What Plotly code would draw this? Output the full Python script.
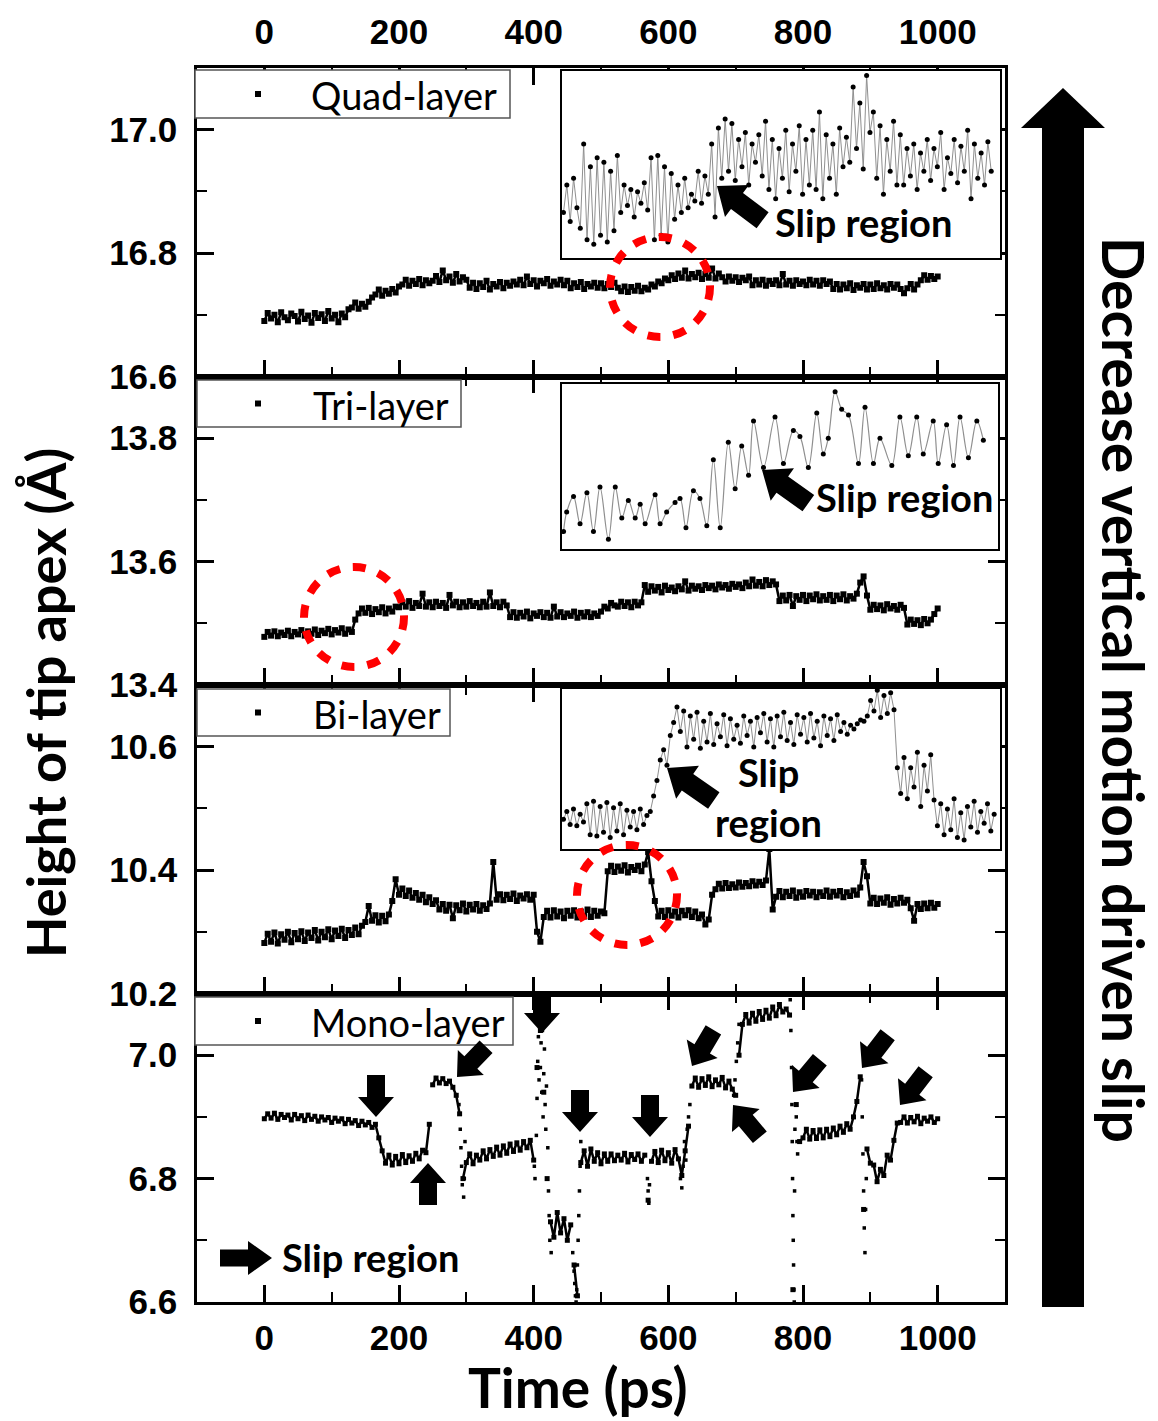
import numpy as np
import plotly.graph_objects as go

# ---------------- data ----------------
time_step_ps = 5
x_tick_values = [0, 200, 400, 600, 800, 1000]
layer_names = ["Quad-layer", "Tri-layer", "Bi-layer", "Mono-layer"]
y_ranges = [(16.6, 17.1), (13.4, 13.9), (10.2, 10.7), (6.6, 7.1)]

quad_height = [
    16.690, 16.703, 16.694, 16.700, 16.688, 16.704, 16.696, 16.691, 16.702, 16.698,
    16.689, 16.705, 16.693, 16.699, 16.687, 16.703, 16.695, 16.701, 16.690, 16.706,
    16.694, 16.700, 16.688, 16.702, 16.696,
    16.709,
    16.712, 16.720, 16.710, 16.718, 16.713, 16.721,
    16.728,
    16.733, 16.741, 16.731, 16.739, 16.734, 16.742, 16.736,
    16.746,
    16.749, 16.757, 16.747, 16.755, 16.750, 16.758, 16.748, 16.756, 16.751,
    16.755, 16.763, 16.753, 16.772, 16.756, 16.762, 16.752, 16.766, 16.754, 16.761, 16.757,
    16.744, 16.752, 16.742, 16.751, 16.745, 16.755, 16.741, 16.750, 16.746, 16.753, 16.743, 16.752, 16.747, 16.754,
    16.749, 16.757, 16.748, 16.762, 16.750, 16.756, 16.746, 16.755, 16.751, 16.758, 16.747, 16.754, 16.749, 16.757, 16.748, 16.755,
    16.743, 16.751, 16.745, 16.753, 16.742, 16.750, 16.746, 16.752, 16.744, 16.751, 16.743, 16.750, 16.745, 16.752, 16.744,
    16.738, 16.746, 16.737, 16.745, 16.739, 16.747, 16.738, 16.744,
    16.741, 16.749, 16.746, 16.754, 16.751, 16.759, 16.756, 16.764,
    16.758, 16.767, 16.760, 16.772, 16.759, 16.766, 16.761, 16.768, 16.758, 16.766, 16.760, 16.775, 16.759, 16.767, 16.761,
    16.754, 16.762, 16.755, 16.761, 16.753, 16.760, 16.756, 16.762,
    16.748, 16.756, 16.749, 16.757, 16.747, 16.755, 16.750, 16.756, 16.748, 16.766, 16.749, 16.755,
    16.747, 16.756, 16.750, 16.754, 16.748, 16.757, 16.749, 16.755, 16.747, 16.756, 16.750, 16.754,
    16.742, 16.750, 16.741, 16.749, 16.743, 16.751, 16.740, 16.748, 16.744, 16.750, 16.741, 16.749, 16.742,
    16.751, 16.743, 16.748, 16.741, 16.750, 16.744, 16.749, 16.742, 16.735, 16.743, 16.750, 16.741, 16.749,
    16.756, 16.764, 16.757, 16.763, 16.758, 16.762,
]

tri_height = [
    13.478, 13.486, 13.480, 13.487, 13.479, 13.485, 13.481, 13.488, 13.479, 13.486,
    13.482, 13.489, 13.480, 13.487, 13.483, 13.490, 13.481, 13.488, 13.484, 13.491,
    13.482, 13.489, 13.485, 13.492, 13.483, 13.490, 13.486,
    13.506,
    13.516, 13.524, 13.517, 13.525, 13.515, 13.523, 13.518, 13.526, 13.516, 13.524, 13.519, 13.527,
    13.526, 13.534, 13.527, 13.536, 13.525, 13.533, 13.528, 13.548, 13.527, 13.534, 13.526,
    13.535, 13.528, 13.533, 13.525, 13.546, 13.529, 13.535, 13.526, 13.534, 13.527, 13.536,
    13.528, 13.533, 13.526, 13.535, 13.527, 13.550, 13.528, 13.534, 13.526, 13.535, 13.529,
    13.510, 13.518, 13.509, 13.517, 13.511, 13.519, 13.508, 13.516, 13.512, 13.518, 13.510, 13.517, 13.509, 13.527,
    13.511, 13.518, 13.510, 13.516, 13.512, 13.519, 13.509, 13.517, 13.511, 13.518, 13.510, 13.516, 13.512,
    13.519, 13.527, 13.524, 13.533, 13.529,
    13.527, 13.535, 13.528, 13.534, 13.526, 13.535, 13.529, 13.534,
    13.562,
    13.551, 13.560, 13.553, 13.559, 13.550, 13.561, 13.554, 13.558, 13.552, 13.560, 13.555, 13.568, 13.553,
    13.561, 13.556, 13.560, 13.554, 13.562, 13.557, 13.561, 13.555, 13.563, 13.558, 13.562, 13.556, 13.564,
    13.559, 13.563, 13.557, 13.566, 13.560, 13.571, 13.561, 13.567, 13.560, 13.570, 13.562, 13.568, 13.563,
    13.536, 13.545, 13.537, 13.546, 13.528, 13.544, 13.538, 13.546, 13.536, 13.545, 13.539, 13.547, 13.537, 13.544,
    13.538, 13.546, 13.536, 13.545, 13.539, 13.547, 13.537, 13.544, 13.540, 13.548, 13.566, 13.576, 13.545,
    13.522, 13.530, 13.523, 13.529, 13.521, 13.531, 13.524, 13.528, 13.522, 13.530, 13.525,
    13.498, 13.506, 13.499, 13.505, 13.497, 13.507, 13.500, 13.506,
    13.515, 13.524,
]

bi_height = [
    10.282, 10.297, 10.284, 10.299, 10.281, 10.296, 10.287, 10.300, 10.283, 10.298,
    10.288, 10.301, 10.285, 10.299, 10.290, 10.303, 10.286, 10.300, 10.291, 10.304,
    10.288, 10.302, 10.293, 10.305, 10.290, 10.303, 10.295, 10.307, 10.296, 10.310,
    10.316, 10.342, 10.318, 10.327, 10.315, 10.326, 10.317, 10.328,
    10.350,
    10.385, 10.360, 10.370, 10.358, 10.367, 10.355, 10.363, 10.352, 10.360, 10.348, 10.356, 10.345, 10.351,
    10.336, 10.345, 10.334, 10.344, 10.322, 10.343, 10.335, 10.346, 10.333, 10.344, 10.336, 10.345, 10.334, 10.343, 10.337, 10.346,
    10.413,
    10.352, 10.361, 10.351, 10.360, 10.353, 10.362, 10.350, 10.359, 10.354, 10.361, 10.352, 10.360,
    10.300, 10.284,
    10.324, 10.334, 10.323, 10.335, 10.325, 10.333, 10.322, 10.334, 10.326, 10.335,
    10.323, 10.333, 10.325, 10.336, 10.324, 10.334, 10.326, 10.333, 10.330,
    10.398, 10.407, 10.397, 10.406, 10.399, 10.408, 10.396, 10.405, 10.400, 10.407, 10.398, 10.409,
    10.429,
    10.382, 10.350,
    10.325, 10.334, 10.324, 10.335, 10.326, 10.333, 10.323, 10.334, 10.327, 10.335, 10.324, 10.333, 10.322, 10.328, 10.312, 10.320,
    10.360,
    10.369, 10.378, 10.370, 10.379, 10.371, 10.377, 10.372, 10.380, 10.373, 10.379, 10.374, 10.382, 10.375, 10.381, 10.376, 10.383,
    10.434,
    10.336,
    10.357, 10.366, 10.356, 10.365, 10.358, 10.367, 10.355, 10.364, 10.357, 10.366, 10.359, 10.365, 10.356,
    10.364, 10.358, 10.367, 10.357, 10.365, 10.359, 10.366, 10.356, 10.364, 10.358, 10.367, 10.360, 10.372,
    10.413, 10.390,
    10.346, 10.355, 10.345, 10.354, 10.347, 10.356, 10.344, 10.353, 10.346, 10.355, 10.347, 10.352,
    10.338, 10.318, 10.345, 10.337, 10.346, 10.338, 10.347, 10.339, 10.345,
]

mono_height = [
    6.897, 6.905, 6.898, 6.906, 6.896, 6.904, 6.899, 6.903, 6.895, 6.904,
    6.897, 6.902, 6.894, 6.903, 6.896, 6.901, 6.893, 6.900, 6.895, 6.899,
    6.891, 6.898, 6.893, 6.897, 6.889, 6.896, 6.890, 6.894, 6.886, 6.893,
    6.887, 6.891, 6.883, 6.888,
    6.866, 6.845,
    6.825, 6.838, 6.822, 6.836, 6.824, 6.839, 6.826, 6.837, 6.828, 6.841, 6.832, 6.846, 6.842,
    6.888,
    6.952, 6.963, 6.955, 6.962, 6.954, 6.958, 6.948,
    6.935, 6.905,
    6.800,
    6.826, 6.840, 6.824, 6.838, 6.830, 6.845, 6.832, 6.847, 6.836, 6.851,
    6.838, 6.853, 6.841, 6.856, 6.844, 6.858, 6.846, 6.860, 6.850, 6.862,
    6.830,
    6.980, 7.040, 6.940,
    6.800,
    6.730, 6.705, 6.745, 6.712, 6.735, 6.700, 6.725,
    6.660, 6.610,
    6.826, 6.845, 6.820, 6.848, 6.828, 6.842, 6.824, 6.840,
    6.828, 6.840, 6.829, 6.838, 6.830, 6.841, 6.827, 6.839, 6.831, 6.840, 6.828, 6.838,
    6.765,
    6.828, 6.844, 6.826, 6.846, 6.829, 6.842, 6.825, 6.847, 6.832,
    6.805, 6.845, 6.885,
    6.950, 6.963, 6.948, 6.962, 6.951, 6.965, 6.949, 6.960, 6.952, 6.964, 6.947, 6.958, 6.945,
    6.935, 7.000,
    7.050, 7.066, 7.052, 7.068, 7.055, 7.071, 7.058, 7.073, 7.060, 7.078, 7.064, 7.082, 7.070,
    7.075, 7.065,
    6.620, 6.920, 6.860,
    6.866, 6.880, 6.864, 6.878, 6.865, 6.879, 6.866, 6.880, 6.868, 6.882, 6.871, 6.885, 6.875, 6.889, 6.880,
    6.900, 6.925, 6.965,
    6.750,
    6.848, 6.825, 6.822, 6.795, 6.815, 6.805, 6.838, 6.830,
    6.862, 6.890,
    6.891, 6.900, 6.890, 6.899, 6.892, 6.901, 6.889, 6.898, 6.893, 6.900, 6.891, 6.897,
]

mono_spike_time = [
    289, 291, 292, 293, 294, 296, 297, 298,
    401, 402, 404, 405, 406, 407, 408, 409, 410, 411, 412, 413, 414, 415, 416, 417, 418, 419, 421, 422, 423, 424, 426,
    458, 460, 461, 462, 463, 464, 465, 466, 467, 468, 469, 470,
    569, 570, 571, 572,
    618, 620, 622, 624, 626, 628, 630, 632,
    697, 699, 701, 703, 705,
    781, 782, 783, 783.5, 784, 784.5, 785, 785.5, 786, 786.5, 787, 787.5, 788, 789, 790, 791, 792,
    887, 888, 889, 890, 891, 892, 893, 894,
]
mono_spike_height = [
    6.92, 6.88, 6.85, 6.82, 6.79, 6.77, 6.80, 6.86,
    6.82, 6.80, 6.87, 6.93, 6.99, 7.03, 6.96, 7.05, 6.98, 7.02, 6.94, 7.04, 6.90, 6.97, 7.01, 6.92, 6.88, 6.95, 6.85, 6.78, 6.74, 6.70, 6.68,
    6.68, 6.65, 6.63, 6.61, 6.60, 6.62, 6.66, 6.70, 6.74, 6.78, 6.82, 6.86,
    6.80, 6.78, 6.76, 6.79,
    6.80, 6.785, 6.82, 6.86, 6.83, 6.88, 6.90, 6.92,
    6.935, 6.96, 6.99, 7.02, 7.05,
    7.09, 7.04, 6.98, 6.92, 6.86, 6.80, 6.74, 6.70, 6.66, 6.62, 6.60, 6.78, 6.88, 6.92, 6.90, 6.86, 6.84,
    6.96, 6.90, 6.84, 6.78, 6.72, 6.68, 6.75, 6.80,
]

# insets (zoom of the circled regions)
quad_inset_time_span = (481, 774)
quad_inset_x_range = (480, 780)
quad_inset_y_range = (16.720, 16.802)
quad_inset_height = [
    16.740, 16.752, 16.736, 16.755, 16.742, 16.733,
    16.770, 16.728, 16.760, 16.726, 16.764, 16.730, 16.762, 16.727, 16.758, 16.732, 16.765,
    16.740, 16.752, 16.743, 16.750, 16.738, 16.749, 16.744, 16.753, 16.741,
    16.764, 16.728, 16.765, 16.730, 16.760, 16.727, 16.757,
    16.737, 16.752, 16.740, 16.755, 16.742, 16.748, 16.745, 16.758, 16.744, 16.756,
    16.748, 16.770, 16.738, 16.777,
    16.755, 16.781, 16.758, 16.779, 16.754, 16.772, 16.760, 16.775, 16.752, 16.770, 16.762, 16.774, 16.756,
    16.780, 16.750, 16.772, 16.746, 16.768, 16.755, 16.776, 16.749, 16.770, 16.758,
    16.778, 16.748, 16.772, 16.752, 16.776, 16.750, 16.784, 16.746, 16.774, 16.755, 16.770, 16.748, 16.777, 16.760, 16.773,
    16.762, 16.795, 16.768, 16.788, 16.759, 16.800, 16.775,
    16.784, 16.755, 16.778, 16.748, 16.772, 16.758, 16.780, 16.752,
    16.774, 16.752, 16.768, 16.756, 16.770, 16.750, 16.766, 16.758, 16.772, 16.754, 16.768, 16.760, 16.775, 16.750,
    16.764, 16.757, 16.772, 16.753, 16.769, 16.758, 16.776, 16.746, 16.770, 16.755, 16.766, 16.752, 16.771, 16.758,
]

tri_inset_x_range = (90.6, 230.6)
tri_inset_y_range = (13.46, 13.545)
tri_inset_time = [
    91.1, 92.1, 94.3, 96.4, 98.6, 100.7, 102.8, 105.5, 107.7, 109.8, 111.9, 114.1, 115.7, 117.3,
    120.5, 122.1, 124.2, 126.9, 128.5, 130.4, 132.8, 134.9, 137.1,
    139.2, 141.4, 144.0, 146.2, 148.3, 150.5, 152.1, 155.3, 159.0, 161.7, 164.9, 167.0, 169.7,
    172.4, 174.5, 176.1, 178.3, 180.4, 182.6, 185.8, 187.9, 190.6, 192.7, 196.5, 199.1, 201.8,
    204.5, 206.6, 209.8, 211.4, 214.1, 216.3, 218.4, 221.1, 223.8, 225.9,
]
tri_inset_height = [
    13.469, 13.479, 13.487, 13.473, 13.489, 13.469, 13.492, 13.465, 13.492, 13.476, 13.485, 13.476, 13.483, 13.473,
    13.488, 13.473, 13.479, 13.484, 13.486, 13.471, 13.490, 13.486, 13.472,
    13.506, 13.471, 13.515, 13.491, 13.513, 13.498, 13.526, 13.502, 13.528, 13.504, 13.521, 13.518, 13.502,
    13.530, 13.509, 13.517, 13.541, 13.532, 13.529, 13.504, 13.533, 13.504, 13.517, 13.503, 13.528, 13.508,
    13.528, 13.509, 13.526, 13.504, 13.524, 13.503, 13.528, 13.507, 13.526, 13.516,
]

bi_inset_time_span = (481.4, 599.4)
bi_inset_x_range = (481, 601)
bi_inset_y_range = (10.307, 10.431)
bi_inset_height = [
    10.330, 10.336, 10.326, 10.338, 10.325, 10.334, 10.328, 10.342, 10.318, 10.344, 10.317, 10.340, 10.320,
    10.343, 10.316, 10.339, 10.321, 10.342, 10.318, 10.337, 10.324, 10.336, 10.322, 10.338, 10.326, 10.333,
    10.336, 10.348, 10.360,
    10.376, 10.384, 10.372,
    10.395, 10.405,
    10.417, 10.398, 10.414,
    10.386, 10.410, 10.392, 10.413, 10.385, 10.406, 10.390, 10.412, 10.388, 10.404, 10.394, 10.411,
    10.387, 10.408, 10.392, 10.403, 10.389, 10.410, 10.395, 10.406, 10.386, 10.409, 10.397,
    10.412, 10.390, 10.408, 10.386, 10.410, 10.394, 10.413, 10.391, 10.405, 10.388, 10.411, 10.396, 10.409, 10.390,
    10.412, 10.393, 10.406, 10.387, 10.410, 10.395, 10.408, 10.391, 10.411, 10.398, 10.405, 10.396, 10.403, 10.400,
    10.404, 10.407, 10.406, 10.410,
    10.422, 10.414, 10.430, 10.409, 10.426, 10.412, 10.428, 10.415,
    10.370,
    10.350, 10.378, 10.346, 10.370, 10.355, 10.382, 10.340, 10.372, 10.352, 10.380, 10.345,
    10.325, 10.342, 10.318, 10.338, 10.322, 10.346, 10.316, 10.335, 10.314, 10.340, 10.324, 10.344, 10.320,
    10.336, 10.327, 10.342, 10.321, 10.334,
]

# ---------------- geometry helpers (page pixels -> paper) ----------------
W, H = 1158, 1421
ML, MR, MT, MB = 197, 153, 68, 119
PW = W - ML - MR
PH = H - MT - MB


def px(x):
    return (x - ML) / PW


def py(y):
    return (H - MB - y) / PH


def block_arrow(tip, direction, length, head_len, head_w, shaft_w):
    tx, ty = tip
    dx, dy = direction
    n = (dx * dx + dy * dy) ** 0.5
    dx, dy = dx / n, dy / n
    nx, ny = -dy, dx
    local = [(0, 0), (-head_len, head_w / 2), (-head_len, shaft_w / 2), (-length, shaft_w / 2),
             (-length, -shaft_w / 2), (-head_len, -shaft_w / 2), (-head_len, -head_w / 2)]
    pts = [(tx + a * dx + b * nx, ty + a * dy + b * ny) for a, b in local]
    path = "M " + " L ".join(f"{px(x):.5f},{py(y):.5f}" for x, y in pts) + " Z"
    return dict(type="path", xref="paper", yref="paper", path=path,
                fillcolor="black", line=dict(width=0), layer="above")


def break_jumps(x, y, threshold):
    """Insert gaps where consecutive samples jump, so jumps show as dots only."""
    xs, ys = [], []
    for i in range(len(y)):
        if i > 0 and abs(y[i] - y[i - 1]) > threshold:
            xs.append(None)
            ys.append(None)
        xs.append(x[i])
        ys.append(y[i])
    return xs, ys


# ---------------- figure ----------------
fig = go.Figure()
time_main = list(np.arange(len(quad_height)) * time_step_ps)
series = [quad_height, tri_height, bi_height, mono_height]
axis_ids = [4, 3, 2, 1]   # top panel -> bottom panel
band_marker = dict(symbol="square", size=6, color="black")

for heights, k in zip(series, axis_ids):
    s = "" if k == 1 else str(k)
    if k == 1:
        bx, by = break_jumps(time_main, heights, 0.05)
        fig.add_trace(go.Scatter(x=bx, y=by, mode="lines", connectgaps=False,
                                 line=dict(color="black", width=2.5),
                                 xaxis="x", yaxis="y", showlegend=False, hoverinfo="skip"))
        fig.add_trace(go.Scatter(x=time_main, y=heights, mode="markers",
                                 marker=dict(band_marker, size=5),
                                 xaxis="x", yaxis="y", showlegend=False, hoverinfo="skip"))
    else:
        fig.add_trace(go.Scatter(
            x=time_main, y=heights, mode="lines+markers",
            line=dict(color="black", width=2.5), marker=band_marker,
            xaxis="x" + s, yaxis="y" + s, showlegend=False, hoverinfo="skip"))

fig.add_trace(go.Scatter(
    x=mono_spike_time, y=mono_spike_height, mode="markers",
    marker=dict(symbol="square", size=3.5, color="black"),
    xaxis="x", yaxis="y", showlegend=False, hoverinfo="skip"))

inset_line = dict(color="#8f8f8f", width=1)
inset_marker = dict(symbol="circle", size=5, color="black")
fig.add_trace(go.Scatter(
    x=np.linspace(*quad_inset_time_span, len(quad_inset_height)), y=quad_inset_height,
    mode="lines+markers", line=inset_line, marker=inset_marker,
    xaxis="x5", yaxis="y5", showlegend=False, hoverinfo="skip"))
fig.add_trace(go.Scatter(
    x=tri_inset_time, y=tri_inset_height, mode="lines+markers",
    line=dict(color="#8f8f8f", width=1.2, shape="spline"), marker=inset_marker,
    xaxis="x6", yaxis="y6", showlegend=False, hoverinfo="skip"))
fig.add_trace(go.Scatter(
    x=np.linspace(*bi_inset_time_span, len(bi_inset_height)), y=bi_inset_height,
    mode="lines+markers", line=inset_line, marker=inset_marker,
    xaxis="x7", yaxis="y7", showlegend=False, hoverinfo="skip"))

tick_font = dict(family="Liberation Sans, Arial", size=35, color="black", weight="bold")
common = dict(showline=True, linewidth=2.5, linecolor="black", mirror="ticks",
              ticks="inside", ticklen=17, tickwidth=2.5, tickcolor="black",
              showgrid=False, zeroline=False, tickfont=tick_font, automargin=False)

layout_axes = {}
for i, k in enumerate(axis_ids):
    s = "" if k == 1 else str(k)
    dom = [(3 - i) * 0.25, (4 - i) * 0.25]
    xa = dict(common, domain=[0, 1], anchor="y" + s, range=[-100, 1100],
              tickmode="array", tickvals=x_tick_values,
              minor=dict(tickmode="linear", tick0=0, dtick=100, ticks="inside",
                         ticklen=10, tickwidth=2, tickcolor="black", showgrid=False),
              showticklabels=(k in (1, 4)), side=("top" if k == 4 else "bottom"),
              ticklabelstandoff=(7 if k == 4 else 3))
    ya = dict(common, domain=dom, anchor="x" + s, range=list(y_ranges[i]),
              tick0=y_ranges[i][0], dtick=0.2, tickformat=".1f",
              minor=dict(tick0=y_ranges[i][0], dtick=0.1, ticks="inside",
                         ticklen=10, tickwidth=2, tickcolor="black", showgrid=False),
              ticklabelstandoff=10)
    layout_axes["xaxis" + s] = xa
    layout_axes["yaxis" + s] = ya

inset_boxes = {5: (562, 1000, 71, 258), 6: (562, 998, 384, 549), 7: (562, 1000, 689, 849)}
inset_ranges = {5: (quad_inset_x_range, quad_inset_y_range),
                6: (tri_inset_x_range, tri_inset_y_range),
                7: (bi_inset_x_range, bi_inset_y_range)}
for k, (x0, x1, y0, y1) in inset_boxes.items():
    xr, yr = inset_ranges[k]
    base = dict(showline=True, linewidth=2, linecolor="black", mirror=True, ticks="",
                showticklabels=False, showgrid=False, zeroline=False, automargin=False)
    layout_axes[f"xaxis{k}"] = dict(base, domain=[px(x0), px(x1)], anchor=f"y{k}", range=list(xr))
    layout_axes[f"yaxis{k}"] = dict(base, domain=[py(y1), py(y0)], anchor=f"x{k}", range=list(yr))

shapes = []
annotations = []

# legend boxes
legend_boxes = [((195, 70, 510, 118), 309), ((197, 380, 461, 427), 311),
                ((197, 689, 450, 736), 311), ((195, 997, 513, 1045), 309)]
for name, ((bx0, by0, bx1, by1), tx) in zip(layer_names, legend_boxes):
    cy = (by0 + by1) / 2
    shapes.append(dict(type="rect", xref="paper", yref="paper", x0=px(bx0), x1=px(bx1),
                       y0=py(by1), y1=py(by0), fillcolor="white",
                       line=dict(color="#555555", width=1.5), layer="above"))
    shapes.append(dict(type="rect", xref="paper", yref="paper", x0=px(255), x1=px(261),
                       y0=py(cy + 3), y1=py(cy - 3), fillcolor="black",
                       line=dict(width=0), layer="above"))
    annotations.append(dict(text=name, x=px(tx), y=py(cy + 1), xref="paper", yref="paper",
                            xanchor="left", yanchor="middle", showarrow=False,
                            font=dict(family="Lato", size=38, color="black")))

# red dotted circles
for cx, cy, r in [(660, 287, 50), (354, 617, 50), (627, 895, 50)]:
    shapes.append(dict(type="circle", xref="paper", yref="paper",
                       x0=px(cx - r), x1=px(cx + r), y0=py(cy + r), y1=py(cy - r),
                       line=dict(color="#ff0000", width=8, dash="13px,13px"), layer="above"))

# block arrows
D, U = (0, 1), (0, -1)
mono_arrows = [((376, 1117), D, 42), ((428, 1163), U, 42), ((457, 1077), (-0.69, 0.72), 42),
               ((542, 1033), D, 40), ((580, 1132), D, 42), ((650, 1137), D, 42),
               ((692, 1066), (-0.51, 0.86), 42), ((733, 1105), (-0.64, -0.77), 42),
               ((793, 1092), (-0.64, 0.77), 42), ((862, 1068), (-0.61, 0.79), 42),
               ((900, 1105), (-0.61, 0.79), 42)]
for tip, d, L in mono_arrows:
    shapes.append(block_arrow(tip, d, L, 20, 36, 18))
shapes.append(block_arrow((272, 1258), (1, 0), 52, 24, 34, 17))
for tip, d in [((717, 186), (-0.8, -0.6)), ((762, 470), (-0.81, -0.58)), ((667, 768), (-0.82, -0.57))]:
    shapes.append(block_arrow(tip, d, 57, 25, 40, 20))
shapes.append(block_arrow((1063, 88), (0, -1), 1219, 40, 84, 42))

slip_font = dict(family="Lato", size=38, color="black", weight="bold")
for text, (x, y) in [("Slip region", (863, 222)), ("Slip region", (904, 497)),
                     ("Slip", (768, 772)), ("region", (768, 822)), ("Slip region", (370, 1257))]:
    annotations.append(dict(text=text, x=px(x), y=py(y), xref="paper", yref="paper",
                            xanchor="center", yanchor="middle", showarrow=False, font=slip_font))

title_font = dict(family="Lato", size=54, color="black", weight="bold")
annotations.append(dict(text="Time (ps)", x=px(578), y=py(1387), xref="paper", yref="paper",
                        xanchor="center", yanchor="middle", showarrow=False, height=62,
                        font=dict(title_font, size=55)))
annotations.append(dict(text="Height of tip apex (Å)", x=px(46), y=py(703), xref="paper",
                        yref="paper", xanchor="center", yanchor="middle", showarrow=False,
                        textangle=-90, font=title_font))
annotations.append(dict(text="Decrease vertical motion driven slip", x=px(1124), y=py(690),
                        xref="paper", yref="paper", xanchor="center", yanchor="middle",
                        showarrow=False, textangle=90, height=60, font=dict(title_font, size=57)))

fig.update_layout(
    width=W, height=H, margin=dict(l=ML, r=MR, t=MT, b=MB, pad=0, autoexpand=False),
    paper_bgcolor="white", plot_bgcolor="white", showlegend=False,
    shapes=shapes, annotations=annotations, **layout_axes)

fig.write_html("out.html")
